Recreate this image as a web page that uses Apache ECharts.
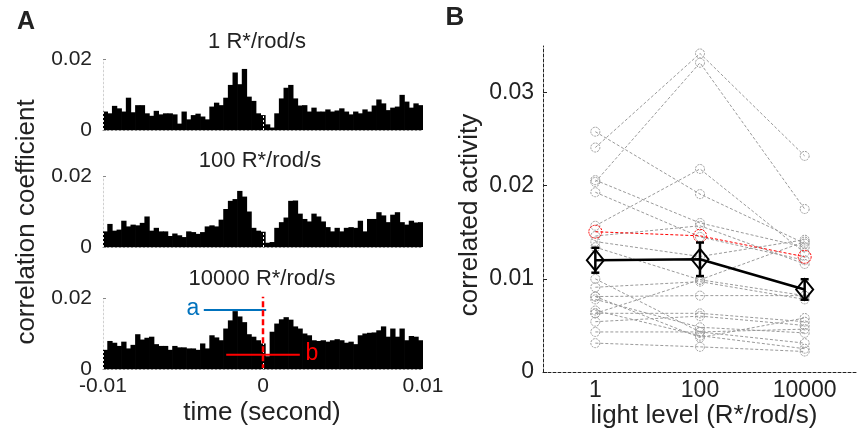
<!DOCTYPE html>
<html>
<head>
<meta charset="utf-8">
<script src="https://cdn.jsdelivr.net/npm/echarts@6/dist/echarts.min.js"></script>
<style>
html, body { margin: 0; padding: 0; background: #fff; }
#main { width: 857px; height: 438px; }
</style>
</head>
<body>
<div id="main"></div>
<script>
var myChart = echarts.init(document.getElementById('main'));

// ---- panel A: cross-correlation histograms (69 bins, -0.01 .. 0.01 s)
var panelTitles = ['1 R*/rod/s', '100 R*/rod/s', '10000 R*/rod/s'];
var corr1 = [
    0.0052, 0.0047, 0.0068, 0.0061, 0.0052, 0.0091, 0.0050, 0.0070, 0.0070, 0.0047,
    0.0040, 0.0054, 0.0044, 0.0047, 0.0047, 0.0044, 0.0018, 0.0052, 0.0030, 0.0042,
    0.0046, 0.0038, 0.0030, 0.0066, 0.0077, 0.0070, 0.0091, 0.0127, 0.0162, 0.0129,
    0.0172, 0.0094, 0.0082, 0.0047, 0.0042, 0.0016, 0.0007, 0.0047, 0.0089, 0.0119,
    0.0127, 0.0089, 0.0069, 0.0070, 0.0052, 0.0063, 0.0052, 0.0052, 0.0058, 0.0052,
    0.0055, 0.0061, 0.0052, 0.0044, 0.0052, 0.0047, 0.0058, 0.0052, 0.0069, 0.0086,
    0.0075, 0.0056, 0.0063, 0.0066, 0.0099, 0.0080, 0.0063, 0.0075, 0.0070
];
var corr100 = [
    0.0044, 0.0065, 0.0046, 0.0049, 0.0074, 0.0058, 0.0063, 0.0061, 0.0068, 0.0086,
    0.0046, 0.0054, 0.0044, 0.0044, 0.0031, 0.0038, 0.0033, 0.0028, 0.0044, 0.0042,
    0.0037, 0.0042, 0.0058, 0.0061, 0.0058, 0.0077, 0.0107, 0.0130, 0.0135, 0.0158,
    0.0142, 0.0100, 0.0054, 0.0046, 0.0043, 0.0012, 0.0014, 0.0054, 0.0070, 0.0083,
    0.0130, 0.0131, 0.0094, 0.0079, 0.0072, 0.0094, 0.0086, 0.0072, 0.0056, 0.0044,
    0.0054, 0.0044, 0.0054, 0.0056, 0.0054, 0.0074, 0.0044, 0.0079, 0.0079, 0.0098,
    0.0089, 0.0070, 0.0091, 0.0098, 0.0070, 0.0063, 0.0074, 0.0069, 0.0070
];
var corr10000 = [
    0.0054, 0.0079, 0.0074, 0.0065, 0.0077, 0.0058, 0.0068, 0.0098, 0.0083, 0.0088,
    0.0091, 0.0070, 0.0065, 0.0065, 0.0054, 0.0065, 0.0061, 0.0061, 0.0058, 0.0058,
    0.0054, 0.0072, 0.0058, 0.0095, 0.0089, 0.0081, 0.0114, 0.0137, 0.0163, 0.0148,
    0.0132, 0.0098, 0.0091, 0.0081, 0.0072, 0.0036, 0.0105, 0.0128, 0.0140, 0.0146,
    0.0139, 0.0120, 0.0114, 0.0100, 0.0095, 0.0081, 0.0079, 0.0081, 0.0077, 0.0081,
    0.0084, 0.0081, 0.0074, 0.0077, 0.0070, 0.0095, 0.0100, 0.0102, 0.0103, 0.0109,
    0.0120, 0.0091, 0.0114, 0.0091, 0.0114, 0.0081, 0.0093, 0.0091, 0.0081
];
var histograms = [corr1, corr100, corr10000];
var timeMin = -0.01, timeMax = 0.01;
var binCenters = corr1.map(function (v, i) {
    return (timeMin + (i + 0.5) * (timeMax - timeMin) / corr1.length).toFixed(5);
});
// thin white seams showing through the bars
var seamTimes = [-0.0069, -0.0011, 0.0019];
// annotations in the 10000 R* panel
var lineA = [[-0.0037, 0.0166], [0.0002, 0.0166]];
var lineB = [[-0.0023, 0.0040], [0.0023, 0.0040]];
var zeroMark = [[0, 0.0216], [0, 0.0003]];

// ---- panel B: correlated activity per cell vs light level
var lightLevels = ['1', '100', '10000'];
var cellActivity = [
    [0.0241, 0.0342, 0.0232],
    [0.0204, 0.0332, 0.0175],
    [0.0258, 0.0191, 0.0138],
    [0.0206, 0.0160, 0.0134],
    [0.0193, 0.0145, 0.0120],
    [0.0157, 0.0218, 0.0128],
    [0.0146, 0.0157, 0.0116],
    [0.0140, 0.0124, 0.0142],
    [0.0134, 0.0099, 0.0082],
    [0.0100, 0.0043, 0.0046],
    [0.0091, 0.0097, 0.0078],
    [0.0081, 0.0082, 0.0082],
    [0.0078, 0.0048, 0.0042],
    [0.0066, 0.0039, 0.0025],
    [0.0063, 0.0099, 0.0140],
    [0.0054, 0.0060, 0.0050],
    [0.0063, 0.0063, 0.0054],
    [0.0043, 0.0043, 0.0031],
    [0.0031, 0.0027, 0.0022],
    [0.0081, 0.0037, 0.0058]
];
var exampleCell = [0.01506, 0.01462, 0.01237];
var meanActivity = [0.0120, 0.0121, 0.00886];
var semActivity = [0.00134, 0.0018, 0.0011];

var FONT = 'Liberation Sans, Arial, Helvetica, sans-serif';
var TXT = '#222';

var gridTops = [59, 176, 298];
var grids = gridTops.map(function (t) {
    return { left: 103, width: 320, top: t, height: 71 };
});
grids.push({ left: 543, right: -7, top: 46, bottom: 66 });

var xAxes = [], yAxes = [], series = [];
histograms.forEach(function (h, i) {
    xAxes.push({
        type: 'category', gridIndex: i, data: binCenters, boundaryGap: true, show: false,
        position: 'bottom'
    });
    yAxes.push({
        type: 'value', gridIndex: i, min: 0, max: 0.02, interval: 0.02, position: 'left',
        axisLine: { show: true, onZero: false, lineStyle: { color: '#888', type: [2, 2], width: 1 } },
        axisTick: { show: true, inside: true, length: 3, lineStyle: { color: '#888' } },
        splitLine: { show: false },
        axisLabel: {
            fontFamily: FONT, fontSize: 21, color: TXT, margin: 11,
            formatter: function (v) { return v === 0 ? '0' : String(v); }
        }
    });
    series.push({
        type: 'bar', xAxisIndex: i, yAxisIndex: i, data: h,
        barWidth: '115%',
        itemStyle: { color: '#000' }, z: 2
    });
});
histograms.forEach(function (h, i) {
    xAxes.push({
        type: 'value', gridIndex: i, min: timeMin, max: timeMax, interval: 0.01,
        position: 'bottom',
        axisLine: { show: true, onZero: false, lineStyle: { color: '#888', type: [2, 2], width: 1 } },
        axisTick: { show: false },
        splitLine: { show: false },
        axisLabel: {
            show: i === 2, fontFamily: FONT, fontSize: 21, color: TXT, margin: 7,
            formatter: function (v) { return v === 0 ? '0' : String(v); }
        }
    });
    // seams through the bars
    series.push({
        type: 'line', xAxisIndex: 3 + i, yAxisIndex: i, data: [], silent: true, z: 3,
        markLine: {
            silent: true, symbol: 'none', label: { show: false },
            lineStyle: { color: '#fff', type: [2, 2], width: 1, opacity: 0.9 },
            data: seamTimes.map(function (t) { return { xAxis: t }; })
        }
    });
});

// annotations on the bottom histogram
series.push({
    type: 'line', xAxisIndex: 5, yAxisIndex: 2, data: lineA, symbol: 'none', z: 5,
    lineStyle: { color: '#0072BD', width: 2 }
});
series.push({
    type: 'line', xAxisIndex: 5, yAxisIndex: 2, data: lineB, symbol: 'none', z: 5,
    lineStyle: { color: '#f00', width: 2 }
});
series.push({
    type: 'line', xAxisIndex: 5, yAxisIndex: 2, data: zeroMark, symbol: 'none', z: 6,
    lineStyle: { color: '#f00', width: 2.5, type: [6, 3] }
});

// panel B axes
xAxes.push({
    type: 'category', gridIndex: 3, data: lightLevels, boundaryGap: true, position: 'bottom',
    axisLine: { show: true, onZero: false, lineStyle: { color: '#222', type: [3, 2], width: 1 } },
    axisTick: { show: false },
    axisLabel: { fontFamily: FONT, fontSize: 23, color: TXT, margin: 7 }
});
yAxes.push({
    type: 'value', gridIndex: 3, min: 0, max: 0.035, interval: 0.01, position: 'left',
    axisLine: { show: true, onZero: false, lineStyle: { color: '#222', type: [3, 2], width: 1 } },
    axisTick: { show: true, inside: true, length: 4, lineStyle: { color: '#222' } },
    splitLine: { show: false },
    axisLabel: {
        fontFamily: FONT, fontSize: 23, color: TXT, margin: 9, showMaxLabel: false,
        formatter: function (v) { return v === 0 ? '0' : String(v); }
    }
});

cellActivity.forEach(function (cell) {
    series.push({
        type: 'line', xAxisIndex: 6, yAxisIndex: 3, data: cell, z: 3,
        symbol: 'circle', symbolSize: 9,
        lineStyle: { color: '#9a9a9a', width: 1, type: [3, 2] },
        itemStyle: { color: 'rgba(0,0,0,0)', borderColor: '#9a9a9a', borderWidth: 1, borderType: [2, 1] }
    });
});
series.push({
    type: 'line', xAxisIndex: 6, yAxisIndex: 3, data: exampleCell, z: 4,
    symbol: 'circle', symbolSize: 13,
    lineStyle: { color: '#f00', width: 1, type: [3, 2] },
    itemStyle: { color: 'rgba(0,0,0,0)', borderColor: '#f00', borderWidth: 1, borderType: [2, 1] }
});
series.push({
    type: 'custom', xAxisIndex: 6, yAxisIndex: 3, z: 6,
    data: meanActivity.map(function (m, i) { return [i, m - semActivity[i], m + semActivity[i]]; }),
    renderItem: function (params, api) {
        var lo = api.coord([api.value(0), api.value(1)]);
        var hi = api.coord([api.value(0), api.value(2)]);
        var st = { stroke: '#000', lineWidth: 2.5 };
        return {
            type: 'group', children: [
                { type: 'line', shape: { x1: lo[0], y1: lo[1], x2: hi[0], y2: hi[1] }, style: st },
                { type: 'line', shape: { x1: lo[0] - 4, y1: lo[1], x2: lo[0] + 4, y2: lo[1] }, style: st },
                { type: 'line', shape: { x1: hi[0] - 4, y1: hi[1], x2: hi[0] + 4, y2: hi[1] }, style: st }
            ]
        };
    }
});
series.push({
    type: 'line', xAxisIndex: 6, yAxisIndex: 3, data: meanActivity, z: 7,
    symbol: 'diamond', symbolSize: [17, 21],
    lineStyle: { color: '#000', width: 2.5 },
    itemStyle: { color: 'rgba(0,0,0,0)', borderColor: '#000', borderWidth: 2 }
});

function txt(text, x, y, size, opts) {
    opts = opts || {};
    return {
        type: 'text', x: x, y: y, rotation: opts.rotation || 0, z: 20,
        style: {
            text: text, fill: opts.color || TXT, align: 'center', verticalAlign: 'middle',
            font: (opts.bold ? 'bold ' : '') + size + 'px ' + FONT
        }
    };
}

var option = {
    backgroundColor: '#fff',
    animation: false,
    grid: grids,
    xAxis: xAxes,
    yAxis: yAxes,
    series: series,
    graphic: [
        txt('A', 26, 22, 25, { bold: true }),
        txt('B', 455, 18, 26, { bold: true }),
        txt(panelTitles[0], 257, 42, 22),
        txt(panelTitles[1], 260, 161, 22),
        txt(panelTitles[2], 262, 279, 22),
        txt('correlation coefficient', 27, 222, 26, { rotation: Math.PI / 2 }),
        txt('time (second)', 262, 413, 26),
        txt('a', 193, 309, 23, { color: '#0072BD' }),
        txt('b', 312, 354, 23, { color: '#f00' }),
        txt('correlated activity', 470, 215, 26, { rotation: Math.PI / 2 }),
        txt('light level (R*/rod/s)', 704, 416, 26)
    ]
};

myChart.setOption(option);
</script>
</body>
</html>
